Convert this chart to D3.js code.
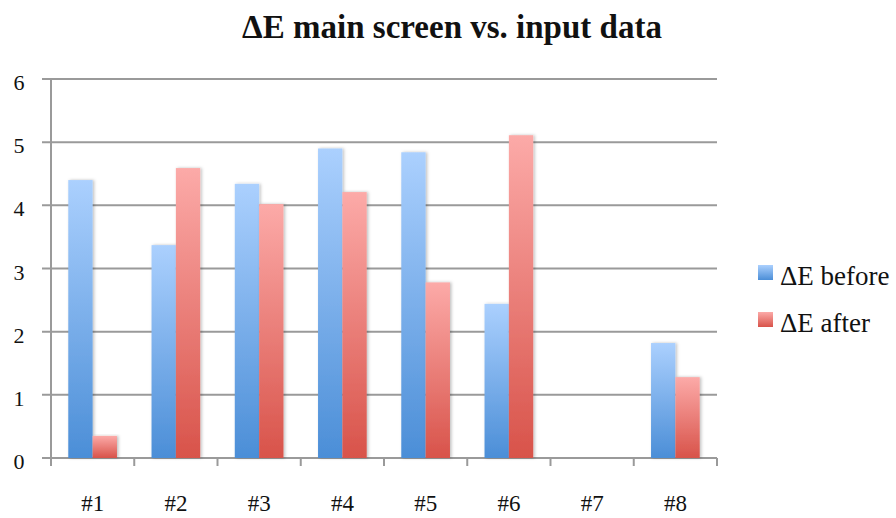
<!DOCTYPE html>
<html>
<head>
<meta charset="utf-8">
<script src="https://cdn.jsdelivr.net/npm/d3@7"></script>
<style>
  body { margin: 0; background: #fff; }
</style>
</head>
<body>
<svg id="drawing_region"></svg>
<script>
const categories = ["#1", "#2", "#3", "#4", "#5", "#6", "#7", "#8"];
const before = [4.40, 3.37, 4.34, 4.90, 4.84, 2.44, 0, 1.82];
const after = [0.35, 4.59, 4.02, 4.21, 2.78, 5.11, 0, 1.28];
const series = ["ΔE before", "ΔE after"];
const yTicks = [0, 1, 2, 3, 4, 5, 6];

const width = 896, height = 518;
const margin = {top: 79, right: 179, bottom: 60, left: 51};
const inner_width = width - margin.left - margin.right;
const inner_height = height - margin.top - margin.bottom;
const FONT = "Liberation Serif";

const svg = d3.select('#drawing_region')
    .attr('width', width)
    .attr('height', height);

const defs = svg.append('defs');
const grads = [
    {id: 'g_before', top: '#abd0fe', bottom: '#4b8ed7'},
    {id: 'g_after', top: '#fcaaa8', bottom: '#d8534a'}
];
grads.forEach(g => {
    const lg = defs.append('linearGradient')
        .attr('id', g.id)
        .attr('x1', 0).attr('y1', 0).attr('x2', 0).attr('y2', 1);
    lg.append('stop').attr('offset', '0%').attr('stop-color', g.top);
    lg.append('stop').attr('offset', '100%').attr('stop-color', g.bottom);
});
defs.append('filter')
    .attr('id', 'shadow')
    .attr('x', '-20%').attr('y', '-5%').attr('width', '150%').attr('height', '110%')
    .append('feDropShadow')
    .attr('dx', 1.5).attr('dy', 0).attr('stdDeviation', 1.5)
    .attr('flood-color', '#000').attr('flood-opacity', 0.25);

const chart = svg.append('g')
    .attr('transform', `translate(${margin.left}, ${margin.top})`);

const xscale = d3.scaleBand()
    .domain(categories)
    .range([0, inner_width])
    .paddingInner(0)
    .paddingOuter(0);

const sub = d3.scaleBand()
    .domain(series)
    .range([0, xscale.bandwidth()])
    .paddingInner(0)
    .paddingOuter(0.71);

const yscale = d3.scaleLinear()
    .domain([0, 6])
    .range([inner_height, 0]);

// gridlines
chart.append('g')
    .selectAll('line')
    .data(yTicks)
    .join('line')
    .attr('x1', -9)
    .attr('x2', inner_width)
    .attr('y1', d => yscale(d))
    .attr('y2', d => yscale(d))
    .attr('stroke', '#9a9a9a')
    .attr('stroke-width', 2);

// y labels
chart.append('g')
    .selectAll('text')
    .data(yTicks)
    .join('text')
    .attr('x', -32)
    .attr('y', d => yscale(d) + 11)
    .attr('text-anchor', 'middle')
    .style('font-family', FONT)
    .style('font-size', '22px')
    .attr('fill', '#111')
    .text(d => d);

// left axis line
chart.append('line')
    .attr('x1', 0).attr('x2', 0)
    .attr('y1', 0).attr('y2', inner_height)
    .attr('stroke', '#9a9a9a')
    .attr('stroke-width', 2);

// bottom ticks
const bounds = categories.map(c => xscale(c)).concat([inner_width]);
chart.append('g')
    .selectAll('line')
    .data(bounds)
    .join('line')
    .attr('x1', d => d).attr('x2', d => d)
    .attr('y1', inner_height).attr('y2', inner_height + 8)
    .attr('stroke', '#9a9a9a')
    .attr('stroke-width', 2);

// bars
const rows = categories.map((c, i) => ({cat: c, vals: [before[i], after[i]]}));
const groups = chart.append('g')
    .selectAll('g')
    .data(rows)
    .join('g')
    .attr('transform', d => `translate(${xscale(d.cat)}, 0)`);

groups.selectAll('rect')
    .data(d => d.vals.map((v, j) => ({key: series[j], v: v, j: j})))
    .join('rect')
    .filter(d => d.v > 0)
    .attr('x', d => sub(d.key))
    .attr('width', sub.bandwidth())
    .attr('y', d => yscale(d.v))
    .attr('height', d => inner_height - yscale(d.v))
    .attr('fill', d => `url(#${grads[d.j].id})`)
    .attr('filter', 'url(#shadow)');

// x labels
chart.append('g')
    .selectAll('text')
    .data(categories)
    .join('text')
    .attr('x', d => xscale(d) + xscale.bandwidth() / 2)
    .attr('y', inner_height + 53)
    .attr('text-anchor', 'middle')
    .style('font-family', FONT)
    .style('font-size', '23px')
    .attr('fill', '#111')
    .text(d => d);

// title
svg.append('text')
    .attr('x', 452)
    .attr('y', 38)
    .attr('text-anchor', 'middle')
    .style('font-family', FONT)
    .style('font-size', '33px')
    .style('font-weight', 'bold')
    .attr('fill', '#111')
    .text('ΔE main screen vs. input data');

// legend
const legend = svg.append('g')
    .attr('transform', 'translate(758, 265)');
series.forEach((s, i) => {
    const row = legend.append('g')
        .attr('transform', `translate(0, ${i * 47})`);
    row.append('rect')
        .attr('width', 15).attr('height', 15)
        .attr('fill', `url(#${grads[i].id})`);
    row.append('text')
        .attr('x', 22)
        .attr('y', 20)
        .style('font-family', FONT)
        .style('font-size', '27px')
        .attr('fill', '#111')
        .text(s);
});
</script>
</body>
</html>
